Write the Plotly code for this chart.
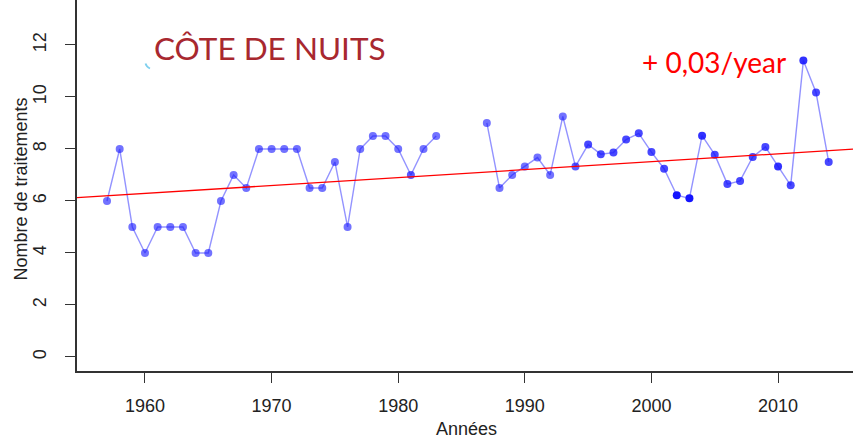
import plotly.graph_objects as go
import numpy as np

# ---- data ----
years = list(range(1957, 2015))
treatments = [6, 8, 5, 4, 5, 5, 5, 4, 4, 6,          # 1957-1966
              7, 6.5, 8, 8, 8, 8, 6.5, 6.5, 7.5, 5,  # 1967-1976
              8, 8.5, 8.5, 8, 7, 8, 8.5,             # 1977-1983
              None, None, None,                      # 1984-1986 (missing)
              9, 6.5, 7, 7.33, 7.67, 7, 9.25, 7.33,  # 1987-1994
              8.17, 7.8, 7.86, 8.36, 8.6, 7.88, 7.24,  # 1995-2001
              6.22, 6.1, 8.51, 7.78, 6.65, 6.77, 7.69, 8.08,  # 2002-2009
              7.33, 6.6, 11.4, 10.17, 7.5]           # 2010-2014
trend_slope = 0.0305      # treatments per year
trend_value_1960 = 6.29   # trend value at 1960

x_ticks = [1960, 1970, 1980, 1990, 2000, 2010]
y_ticks = [0, 2, 4, 6, 8, 10, 12]

title_text = "CÔTE DE NUITS"
trend_text = "+ 0,03/year"
x_title = "Années"
y_title = "Nombre de traitements"

# ---- styling ----
marker_alpha = []
for y in years:
    a = 0.6
    if y in (1981, 1994):
        a = 0.7
    if 1995 <= y <= 2014:
        a = 0.78
    if y in (2002, 2003):
        a = 1.0
    if y in (2004, 2010, 2012):
        a = 0.88
    marker_alpha.append(a)

x_range = [1954.63, 2015.92]
y_range = [-0.54, 13.73]

L, R, T, B = 77, 0, 0, 69
W, H = 853, 440
PW, PH = W - L - R, H - T - B

def px_x(p):
    return (p - L) / PW

def px_y(p):
    return 1 - (p - T) / PH

fig = go.Figure()

trend_x = np.array(x_range)
trend_y = trend_value_1960 + trend_slope * (trend_x - 1960)

fig.add_trace(go.Scatter(
    x=years, y=treatments, mode="lines",
    line=dict(color="rgba(40,40,255,0.5)", width=1.4),
    connectgaps=False, hoverinfo="skip", showlegend=False))

fig.add_trace(go.Scatter(
    x=years, y=treatments, mode="markers",
    marker=dict(color="rgb(20,20,255)", size=8, opacity=marker_alpha,
                line=dict(width=0)),
    showlegend=False))

fig.add_trace(go.Scatter(
    x=trend_x, y=trend_y, mode="lines",
    line=dict(color="#ff0000", width=1.3),
    hoverinfo="skip", showlegend=False))

axis_font = dict(family="Liberation Sans, Arial, sans-serif", size=18, color="#222")

fig.update_layout(
    template="none",
    width=W, height=H,
    margin=dict(l=L, r=R, t=T, b=B, pad=0, autoexpand=False),
    paper_bgcolor="white", plot_bgcolor="white",
    xaxis=dict(range=x_range, tickvals=x_ticks, showgrid=False, zeroline=False,
               automargin=False,
               showline=True, linecolor="#333", linewidth=1.6,
               ticks="outside", ticklen=10, tickwidth=1.4, tickcolor="#333",
               tickfont=axis_font, ticklabelstandoff=8),
    yaxis=dict(range=y_range, tickvals=y_ticks, showgrid=False, zeroline=False,
               automargin=False,
               showline=True, linecolor="#333", linewidth=1.6,
               ticks="outside", ticklen=10, tickwidth=1.4, tickcolor="#333",
               tickfont=axis_font, tickangle=-90, ticklabelstandoff=12),
)

annotations = [
    dict(text=title_text, xref="paper", yref="paper", x=px_x(152), y=px_y(48),
         xanchor="left", yanchor="middle", showarrow=False,
         font=dict(family="Lato, sans-serif", size=31.5, color="#a8282f")),
    dict(text=trend_text, xref="paper", yref="paper", x=px_x(640), y=px_y(62),
         xanchor="left", yanchor="middle", showarrow=False,
         font=dict(family="Lato, sans-serif", size=28, color="#ff0000")),
    dict(text=x_title, xref="paper", yref="paper", x=px_x(466), y=px_y(429),
         xanchor="center", yanchor="middle", showarrow=False,
         font=axis_font),
    dict(text=y_title, xref="paper", yref="paper", x=px_x(20.5), y=px_y(189),
         xanchor="center", yanchor="middle", showarrow=False, textangle=-90,
         font=axis_font),
]
fig.update_layout(annotations=annotations)

fig.add_shape(type="path", xref="paper", yref="paper",
              path=f"M {px_x(145.5)} {px_y(63.5)} Q {px_x(146.5)} {px_y(67)} {px_x(150)} {px_y(68.5)}",
              line=dict(color="#7fd0ee", width=1.8))

fig.write_html("out.html", config={"displayModeBar": False},
               post_script="document.body.style.margin='0';document.body.style.overflow='hidden';")
